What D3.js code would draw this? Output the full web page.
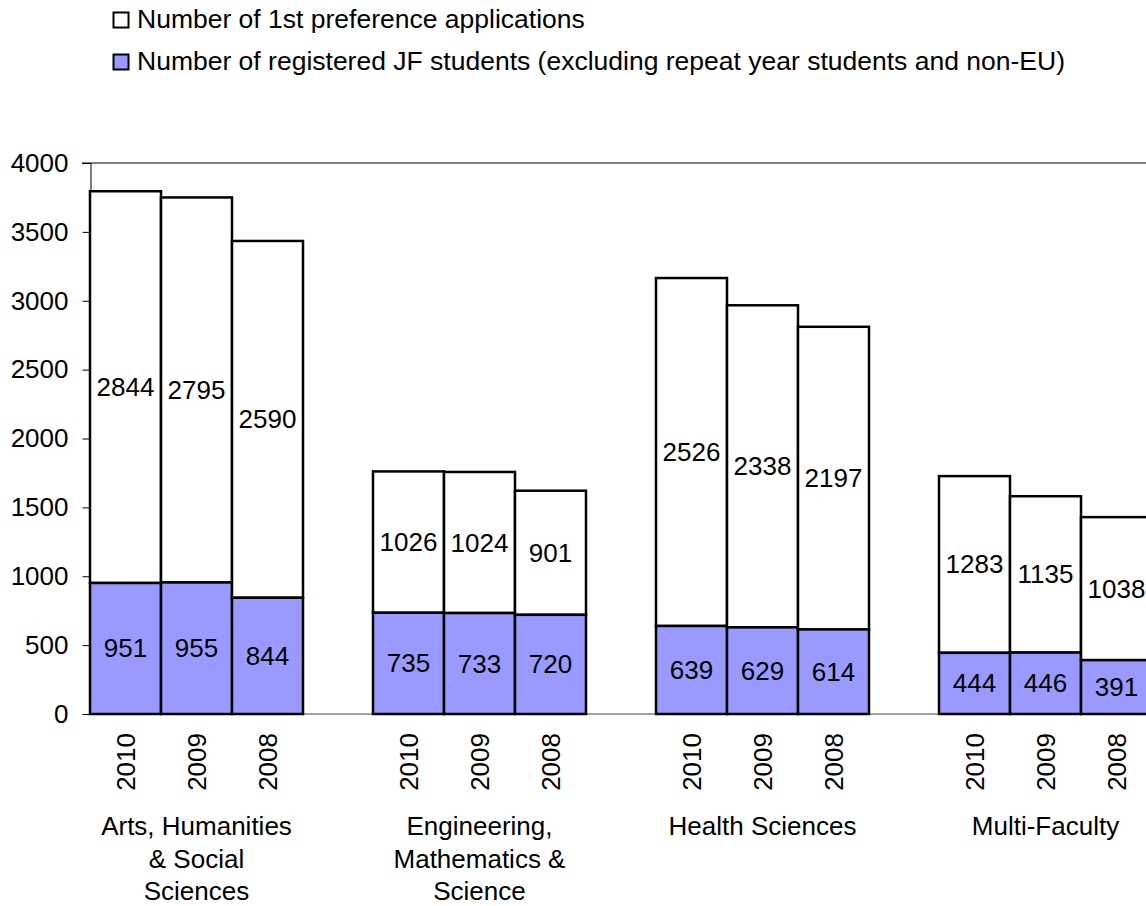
<!DOCTYPE html>
<html><head><meta charset="utf-8">
<script src="https://cdn.jsdelivr.net/npm/d3@7"></script>
<style>
html,body{margin:0;padding:0;background:#fff;}
svg{display:block;font-family:"Liberation Sans",Arial,sans-serif;}
</style></head>
<body>
<svg id="chart" width="1146" height="906"></svg>
<script>
// ---- data ----
const categories = ["Arts, Humanities & Social Sciences", "Engineering, Mathematics & Science", "Health Sciences", "Multi-Faculty"];
const categoryLines = [["Arts, Humanities", "& Social", "Sciences"], ["Engineering,", "Mathematics &", "Science"], ["Health Sciences"], ["Multi-Faculty"]];
const years = ["2010", "2009", "2008"];
const registered = [[951, 955, 844], [735, 733, 720], [639, 629, 614], [444, 446, 391]];
const applications = [[2844, 2795, 2590], [1026, 1024, 901], [2526, 2338, 2197], [1283, 1135, 1038]];
const yTicks = [0, 500, 1000, 1500, 2000, 2500, 3000, 3500, 4000];
const seriesNames = ["Number of 1st preference applications", "Number of registered JF students (excluding repeat year students and non-EU)"];

const svg = d3.select("#chart");
const FS = 26;
const purple = "#9999FF";

const y = d3.scaleLinear().domain([0, 4000]).range([714, 163]);
const x0 = d3.scaleBand().domain(categories).range([55, 55 + 283 * 4]);
const x1 = d3.scaleBand().domain(years).range([35, 248]);

// top border line
svg.append("line").attr("x1", 82).attr("x2", 1146).attr("y1", y(4000)).attr("y2", y(4000))
  .attr("stroke", "#555").attr("stroke-width", 1.5);
// baseline
svg.append("line").attr("x1", 90).attr("x2", 1146).attr("y1", y(0)).attr("y2", y(0))
  .attr("stroke", "#444").attr("stroke-width", 1.2);

// y axis
const yAxis = d3.axisLeft(y).tickValues(yTicks).tickFormat(d3.format("d")).tickSize(8).tickPadding(14);
const gy = svg.append("g").attr("transform", "translate(90.5,0)").call(yAxis);
gy.select(".domain").attr("stroke", "#000").attr("stroke-width", 1);
gy.selectAll(".tick line").attr("stroke", "#000");
gy.selectAll(".tick text").attr("font-size", FS).attr("font-family", "Liberation Sans, Arial, sans-serif").attr("fill", "#000");

// bars
categories.forEach((c, ci) => {
  const g = svg.append("g").attr("transform", `translate(${x0(c)},0)`);
  years.forEach((yr, yi) => {
    const r = registered[ci][yi], a = applications[ci][yi];
    const bx = x1(yr), bw = x1.bandwidth();
    g.append("rect").attr("x", bx).attr("width", bw)
      .attr("y", y(r + a)).attr("height", y(r) - y(r + a))
      .attr("fill", "#fff").attr("stroke", "#000").attr("stroke-width", 2.5);
    g.append("rect").attr("x", bx).attr("width", bw)
      .attr("y", y(r)).attr("height", y(0) - y(r))
      .attr("fill", purple).attr("stroke", "#000").attr("stroke-width", 2.5);
    g.append("text").attr("x", bx + bw / 2).attr("y", y(r / 2))
      .attr("text-anchor", "middle").attr("dominant-baseline", "central")
      .attr("font-size", FS).text(r);
    g.append("text").attr("x", bx + bw / 2).attr("y", y(r + a / 2))
      .attr("text-anchor", "middle").attr("dominant-baseline", "central")
      .attr("font-size", FS).text(a);
    g.append("text")
      .attr("transform", `translate(${bx + bw / 2 + 9},733) rotate(-90)`)
      .attr("text-anchor", "end").attr("font-size", FS).text(yr);
  });
  const t = svg.append("text").attr("text-anchor", "middle").attr("font-size", FS);
  categoryLines[ci].forEach((ln, li) => {
    t.append("tspan").attr("x", x0(c) + 35 + 213 / 2).attr("y", 835 + li * 32.5).text(ln);
  });
});

// legend
const fills = ["#fff", purple];
seriesNames.forEach((s, i) => {
  const ly = 28 + i * 42;
  svg.append("rect").attr("x", 113.5).attr("y", ly - 15.5).attr("width", 15).attr("height", 15)
    .attr("fill", fills[i]).attr("stroke", "#000").attr("stroke-width", 2);
  svg.append("text").attr("x", 137).attr("y", ly).attr("font-size", 26.5).text(s);
});
</script>
</body></html>
